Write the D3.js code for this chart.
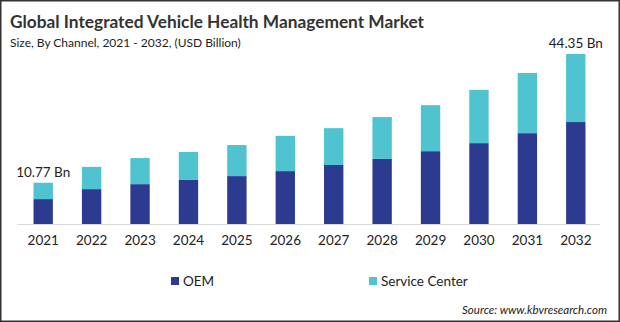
<!DOCTYPE html>
<html>
<head>
<meta charset="utf-8">
<script src="https://cdn.jsdelivr.net/npm/d3@7"></script>
<style>
  html, body { margin: 0; padding: 0; background: #fff; }
  svg { display: block; font-family: Lato, "Open Sans", sans-serif; }
</style>
</head>
<body>
<svg id="chart"></svg>
<script>
var width = 620, height = 322;

// data (USD Billion)
var years = ["2021", "2022", "2023", "2024", "2025", "2026", "2027", "2028", "2029", "2030", "2031", "2032"];
var oem = [6.5, 9.1, 10.4, 11.5, 12.5, 13.8, 15.4, 17.0, 19.0, 21.1, 23.7, 26.6];
var serviceCenter = [4.27, 5.8, 6.8, 7.3, 8.1, 9.2, 9.6, 10.9, 12.0, 13.9, 15.7, 17.75];
var seriesNames = ["OEM", "Service Center"];
var endLabels = {"2021": "10.77 Bn", "2032": "44.35 Bn"};

var colors = {"OEM": "#2c3a8f", "Service Center": "#4fc3cf"};

var svg = d3.select("#chart")
    .attr("width", width)
    .attr("height", height);

// frame
svg.append("rect")
    .attr("x", 0.75).attr("y", 0.75)
    .attr("width", width - 1.5).attr("height", height - 1.5)
    .attr("fill", "#fff")
    .attr("stroke", "#333")
    .attr("stroke-width", 1.5);

// titles
svg.append("text")
    .attr("x", 10).attr("y", 28)
    .attr("font-size", 17.3).attr("font-weight", "bold")
    .attr("fill", "#333")
    .text("Global Integrated Vehicle Health Management Market");

svg.append("text")
    .attr("x", 10).attr("y", 47)
    .attr("font-size", 12)
    .attr("fill", "#222")
    .text("Size, By Channel, 2021 - 2032, (USD Billion)");

var rows = years.map(function(y, i) {
    return {year: y, "OEM": oem[i], "Service Center": serviceCenter[i]};
});
var stacked = d3.stack().keys(seriesNames)(rows);

var x = d3.scaleBand().domain(years).range([19, 600]).paddingInner(0.6).paddingOuter(0.3);
var yScale = d3.scaleLinear().domain([0, 44.35]).range([224, 54]);

// baseline
svg.append("line")
    .attr("x1", 18).attr("x2", 600)
    .attr("y1", 224.5).attr("y2", 224.5)
    .attr("stroke", "#d9d9d9").attr("stroke-width", 1);

svg.append("g").selectAll("g")
    .data(stacked)
    .join("g")
    .attr("fill", function(d) { return colors[d.key]; })
    .selectAll("rect")
    .data(function(d) { return d; })
    .join("rect")
    .attr("x", function(d) { return x(d.data.year); })
    .attr("y", function(d) { return yScale(d[1]); })
    .attr("width", x.bandwidth())
    .attr("height", function(d) { return yScale(d[0]) - yScale(d[1]); });

// year labels
var xAxis = d3.axisBottom(x).tickSize(0).tickPadding(0);
var gx = svg.append("g")
    .attr("transform", "translate(0,235)")
    .call(xAxis);
gx.select(".domain").remove();
gx.selectAll("text")
    .attr("font-family", "Lato, \"Open Sans\", sans-serif")
    .attr("font-size", 13.5)
    .attr("fill", "#222");

// total labels on first and last bar
var topLayer = stacked[stacked.length - 1];
svg.append("g").selectAll("text")
    .data(topLayer.filter(function(d) { return endLabels[d.data.year]; }))
    .join("text")
    .attr("x", function(d) { return x(d.data.year) + x.bandwidth() / 2; })
    .attr("y", function(d) { return yScale(d[1]) - 6; })
    .attr("text-anchor", "middle")
    .attr("font-size", 13.5)
    .attr("fill", "#222")
    .text(function(d) { return endLabels[d.data.year]; });

// legend
var legendX = [171, 369];
var legend = svg.append("g").selectAll("g")
    .data(seriesNames)
    .join("g")
    .attr("transform", function(d, i) { return "translate(" + legendX[i] + ",277)"; });
legend.append("rect")
    .attr("width", 8).attr("height", 8)
    .attr("fill", function(d) { return colors[d]; });
legend.append("text")
    .attr("x", 12).attr("y", 8.5)
    .attr("font-size", 13.5)
    .attr("fill", "#222")
    .text(function(d) { return d; });

// source
svg.append("text")
    .attr("x", 607).attr("y", 314)
    .attr("text-anchor", "end")
    .attr("font-size", 11.5)
    .attr("font-style", "italic")
    .attr("fill", "#222")
    .text("Source: www.kbvresearch.com");
</script>
</body>
</html>
